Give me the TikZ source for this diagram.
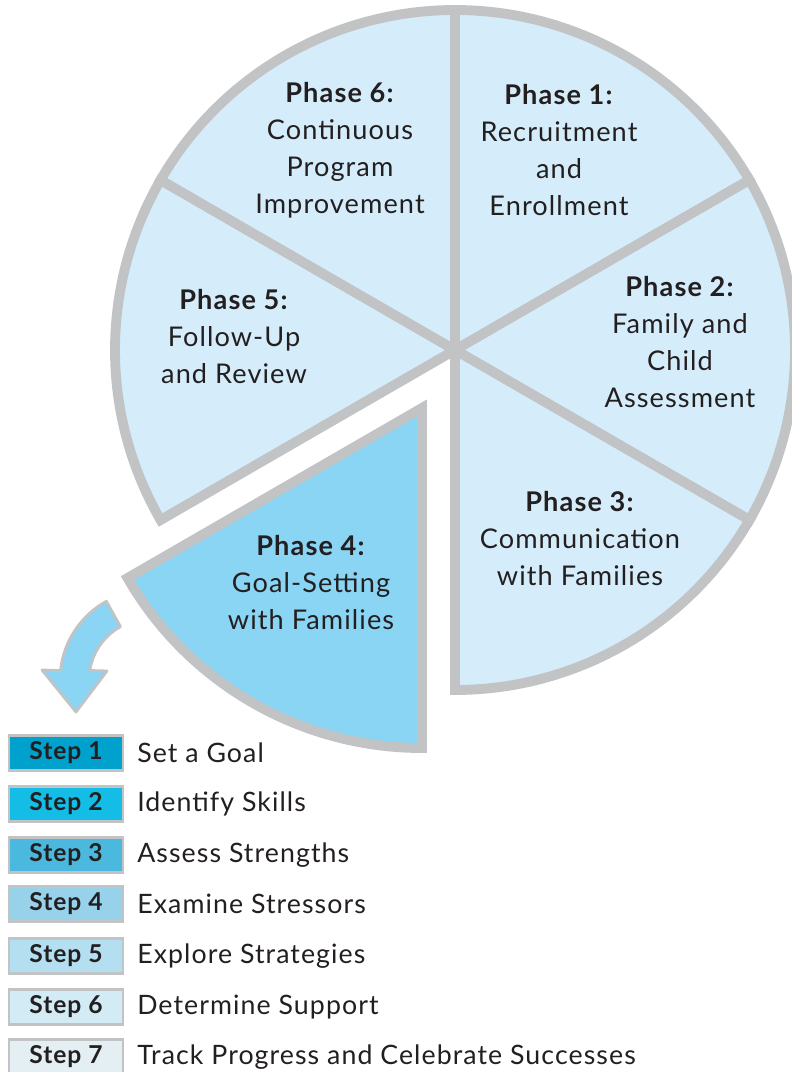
\documentclass[tikz,border=0pt]{standalone}
\usepackage{fontspec}
\setmainfont{Lato}[LetterSpace=4]
\definecolor{rimgray}{HTML}{C1C3C5}
\definecolor{paleblue}{HTML}{D5EDFA}
\definecolor{deepblue}{HTML}{8AD4F4}
\definecolor{inkblack}{HTML}{231F20}
\definecolor{stepone}{HTML}{00A2CD}
\definecolor{steptwo}{HTML}{14BDE6}
\definecolor{stepthree}{HTML}{4BB8DD}
\definecolor{stepfour}{HTML}{97D2EA}
\definecolor{stepfive}{HTML}{B3DFF1}
\definecolor{stepsix}{HTML}{D2EBF5}
\definecolor{stepseven}{HTML}{E3EFF3}

\begin{document}
\begin{tikzpicture}
  [x=0.025cm,y=-0.025cm,
   sector/.style={draw=rimgray,line width=7pt,fill=paleblue,line join=miter},
   phasetext/.style={align=center,text=inkblack,font=\fontsize{19.3}{26.3}\selectfont},
   turnarrow/.style={draw=rimgray,line width=2pt,fill=deepblue,line join=round},
   stepbox/.style={draw=rimgray,line width=2pt,minimum width=2.85cm,minimum height=0.88cm,
     inner sep=0pt,text=inkblack,font=\fontsize{17.5}{22}\selectfont\bfseries},
   steptext/.style={anchor=west,inner sep=0pt,text=inkblack,font=\fontsize{19}{22}\selectfont}]
  \useasboundingbox (0,0) rectangle (791,1072);
  \coordinate (hub) at (455,350);
  \coordinate (apex) at (422,408);

  % the wheel, phase 4 pulled out
  \foreach \a/\b in {-90/-30,-30/30,30/90,150/210,210/270}
    \draw[sector] (hub) -- ++(\a:340) arc[start angle=\a,end angle=\b,radius=340] -- cycle;
  \draw[sector,fill=deepblue] (apex) -- ++(90:340) arc[start angle=90,end angle=150,radius=340] -- cycle;

  \node[phasetext] (P_1) at (559,150) {\textbf{Phase 1:}\\Recruitment\\and\\Enrollment};
  \node[phasetext] (P_2) at (680,342) {\textbf{Phase 2:}\\Family and\\Child\\Assessment};
  \node[phasetext] (P_3) at (580,539) {\textbf{Phase 3:}\\Communication\\with Families};
  \node[phasetext] (P_4) at (311,583) {\textbf{Phase 4:}\\Goal-Setting\\with Families};
  \node[phasetext] (P_5) at (234,337) {\textbf{Phase 5:}\\Follow-Up\\and Review};
  \node[phasetext] (P_6) at (340,150) {\textbf{Phase 6:}\\Continuous\\Program\\Improvement};

  % curved arrow down to the steps
  \coordinate (bend) at (150,680);
  \draw[turnarrow] (bend) ++(241:90) arc[start angle=241,end angle=186,radius=90]
    -- (42,670) -- (76,712) -- (107,671) -- (89.8,670.5)
    arc[start angle=189,end angle=241,radius=61] -- cycle;

  % steps of phase 4
  \foreach \n/\y/\c/\t in {1/753/stepone/Set a Goal,2/804/steptwo/Identify Skills,
      3/855/stepthree/Assess Strengths,4/904/stepfour/Examine Stressors,
      5/956/stepfive/Explore Strategies,6/1007/stepsix/Determine Support,
      7/1057/stepseven/Track Progress and Celebrate Successes}
  {
    \node[stepbox,fill=\c] (S_\n) at (66,\y) {Step \n};
    \node[steptext] (T_\n) at (137,\y) {\t};
  }

\end{tikzpicture}
\end{document}
